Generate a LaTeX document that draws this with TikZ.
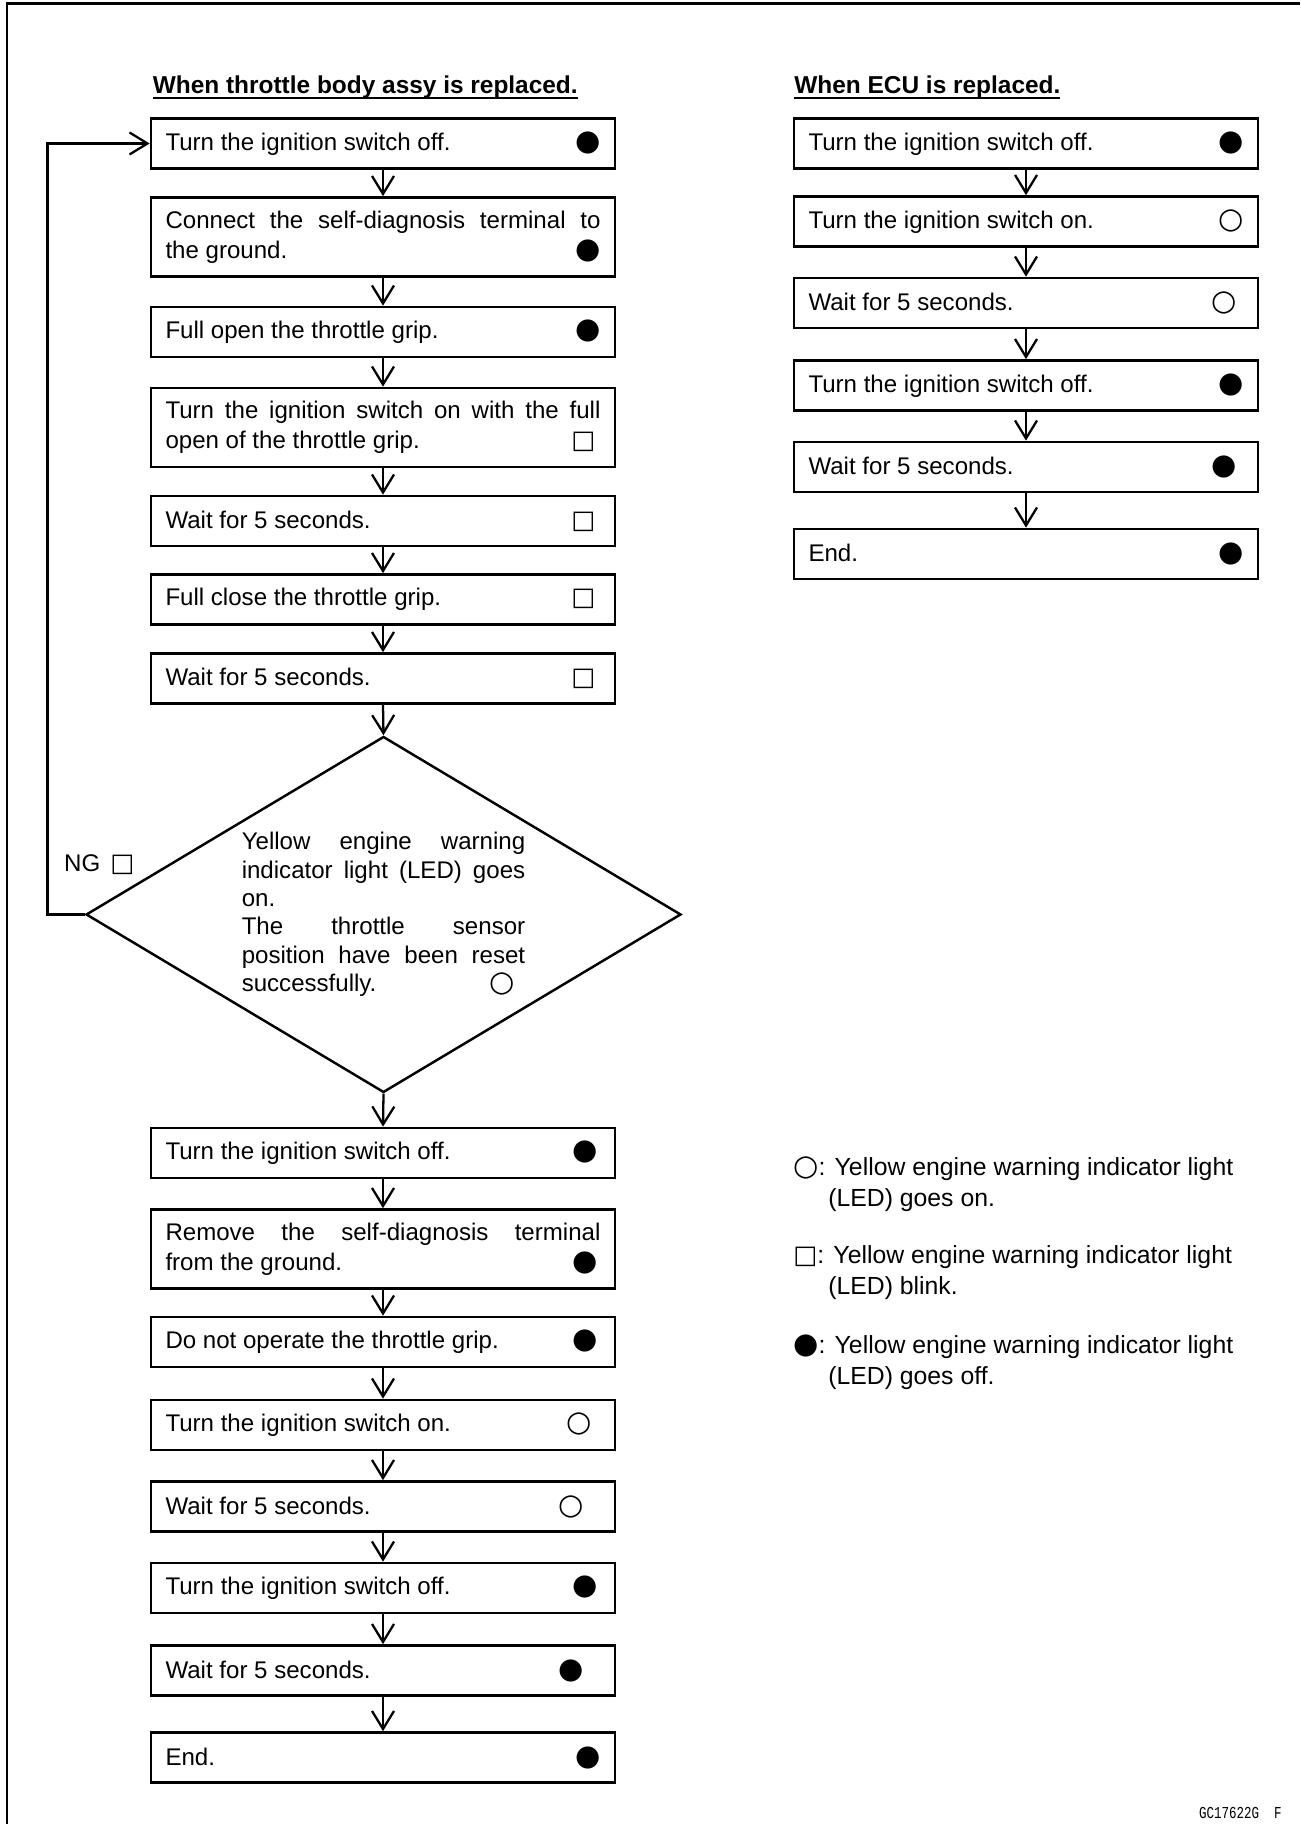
\documentclass[tikz,border=0pt]{standalone}
\usepackage{fontspec}
\setmainfont{Liberation Sans}
\newfontfamily\symfont{DejaVu Sans}
\newfontfamily\codefont[FakeStretch=0.75]{Liberation Mono}
\usetikzlibrary{arrows.meta,shapes.geometric}
\newcommand\stepfont{\fontsize{13.7}{17.2}\selectfont}
\newcommand\offmark{{\symfont\fontsize{16.5}{16.5}\selectfont ●}}
\newcommand\onmark{{\symfont\fontsize{16.5}{16.5}\selectfont ○}}
\newcommand\blinkmark{{\symfont\fontsize{14.5}{14.5}\selectfont □}}
\newcommand\ruled[1]{\setbox0\hbox{#1}\rlap{\vrule width\wd0 height -2.1pt depth 3.1pt}\box0}
\tikzset{
  stepbox/.style={
    draw,
    line width=1.5pt,
    minimum width=9.28cm,
    minimum height=#1,
    text width=8.70cm,
    inner xsep=0.29cm,
    inner ysep=0pt,
    align=justify,
    font=\stepfont
  },
  stepbox/.default=1.0cm,
  decision/.style={
    draw,
    diamond,
    shape aspect=1.67,
    line width=1.4pt,
    minimum width=11.9cm,
    minimum height=7.12cm,
    inner sep=0pt,
    text width=5.67cm,
    align=justify,
    font=\fontsize{13.7}{16.1}\selectfont
  },
  flow/.style={
    draw,
    line width=1.3pt,
    -{Straight Barb[length=3.6mm,width=4.4mm]}
  },
  heading/.style={font=\fontsize{13.9}{17}\selectfont\bfseries, anchor=base west, inner sep=0pt},
  legend/.style={font=\fontsize{14.1}{17.4}\selectfont, anchor=west, inner sep=0pt, align=left}
}
\begin{document}
\begin{tikzpicture}
  \path[use as bounding box] (0,0) rectangle (26,36.48);
  \draw[line width=1.4pt] (0.14,0) |- (26,36.41);

  \node[heading] (lefthead) at (3.05,34.61) {\ruled{When throttle body assy is replaced.}};
  \node[heading] (righthead) at (15.88,34.61) {\ruled{When ECU is replaced.}};

  % throttle body column
  \node[stepbox] (a1) at (7.66,33.61) {Turn the ignition switch off.\hfill\offmark};
  \node[stepbox=1.58cm] (a2) at (7.66,31.74)
    {Connect the self-diagnosis terminal to\linebreak the ground.\hfill\offmark};
  \node[stepbox] (a3) at (7.66,29.84) {Full open the throttle grip.\hfill\offmark};
  \node[stepbox=1.58cm] (a4) at (7.66,27.93)
    {Turn the ignition switch on with the full\linebreak open of the throttle grip.\hfill\blinkmark\hspace*{0.1cm}\mbox{}};
  \node[stepbox] (a5) at (7.66,26.06) {Wait for 5 seconds.\hfill\blinkmark\hspace*{0.1cm}\mbox{}};
  \node[stepbox] (a6) at (7.66,24.49) {Full close the throttle grip.\hfill\blinkmark\hspace*{0.1cm}\mbox{}};
  \node[stepbox] (a7) at (7.66,22.91) {Wait for 5 seconds.\hfill\blinkmark\hspace*{0.1cm}\mbox{}};

  \node[decision] (check) at (7.67,18.19)
    {Yellow engine warning\linebreak indicator light (LED) goes\linebreak on.\newline
     The throttle sensor\linebreak position have been reset\linebreak
     successfully.\hfill\onmark\hspace*{0.2cm}\mbox{}};
  \node[font=\stepfont, anchor=west] (ng) at (1.16,19.18) {NG\hspace{0.2cm}\blinkmark};

  \node[stepbox] (a8) at (7.66,13.42) {Turn the ignition switch off.\hfill\offmark\hspace*{0.05cm}\mbox{}};
  \node[stepbox=1.58cm] (a9) at (7.66,11.50)
    {Remove the self-diagnosis terminal\linebreak from the ground.\hfill\offmark\hspace*{0.05cm}\mbox{}};
  \node[stepbox] (a10) at (7.66,9.64) {Do not operate the throttle grip.\hfill\offmark\hspace*{0.05cm}\mbox{}};
  \node[stepbox] (a11) at (7.66,7.98) {Turn the ignition switch on.\hfill\onmark\hspace*{0.17cm}\mbox{}};
  \node[stepbox] (a12) at (7.66,6.35) {Wait for 5 seconds.\hfill\onmark\hspace*{0.33cm}\mbox{}};
  \node[stepbox] (a13) at (7.66,4.72) {Turn the ignition switch off.\hfill\offmark\hspace*{0.05cm}\mbox{}};
  \node[stepbox] (a14) at (7.66,3.07) {Wait for 5 seconds.\hfill\offmark\hspace*{0.33cm}\mbox{}};
  \node[stepbox] (a15) at (7.66,1.33) {End.\hfill\offmark};

  % ECU column
  \node[stepbox] (b1) at (20.52,33.61) {Turn the ignition switch off.\hfill\offmark};
  \node[stepbox] (b2) at (20.52,32.05) {Turn the ignition switch on.\hfill\onmark};
  \node[stepbox] (b3) at (20.52,30.42) {Wait for 5 seconds.\hfill\onmark\hspace*{0.14cm}\mbox{}};
  \node[stepbox] (b4) at (20.52,28.77) {Turn the ignition switch off.\hfill\offmark};
  \node[stepbox] (b5) at (20.52,27.14) {Wait for 5 seconds.\hfill\offmark\hspace*{0.14cm}\mbox{}};
  \node[stepbox] (b6) at (20.52,25.40) {End.\hfill\offmark};

  % key
  \node[legend] (keyon) at (15.86,12.80)
    {\onmark: Yellow engine warning indicator light\\\hspace*{0.7cm}(LED) goes on.};
  \node[legend] (keyblink) at (15.86,11.03)
    {\blinkmark: Yellow engine warning indicator light\\\hspace*{0.7cm}(LED) blink.};
  \node[legend] (keyoff) at (15.86,9.24)
    {\offmark: Yellow engine warning indicator light\\\hspace*{0.7cm}(LED) goes off.};

  \node[anchor=base east, inner sep=0pt] (code) at (25.64,0.12)
    {\codefont\fontsize{9.5}{10}\selectfont GC17622G\ \ F};

  \draw[flow] (a1.south) -- (a2.north);
  \draw[flow] (a2.south) -- (a3.north);
  \draw[flow] (a3.south) -- (a4.north);
  \draw[flow] (a4.south) -- (a5.north);
  \draw[flow] (a5.south) -- (a6.north);
  \draw[flow] (a6.south) -- (a7.north);
  \draw[flow] (a7.south) -- (check.north);
  \draw[flow] (check.south) -- (a8.north);
  \draw[flow] (a8.south) -- (a9.north);
  \draw[flow] (a9.south) -- (a10.north);
  \draw[flow] (a10.south) -- (a11.north);
  \draw[flow] (a11.south) -- (a12.north);
  \draw[flow] (a12.south) -- (a13.north);
  \draw[flow] (a13.south) -- (a14.north);
  \draw[flow] (a14.south) -- (a15.north);

  \coordinate (ngturn) at (0.95,18.19);
  \draw[flow] (check.west) -- (ngturn) |- (a1.west);

  \draw[flow] (b1.south) -- (b2.north);
  \draw[flow] (b2.south) -- (b3.north);
  \draw[flow] (b3.south) -- (b4.north);
  \draw[flow] (b4.south) -- (b5.north);
  \draw[flow] (b5.south) -- (b6.north);
\end{tikzpicture}
\end{document}
